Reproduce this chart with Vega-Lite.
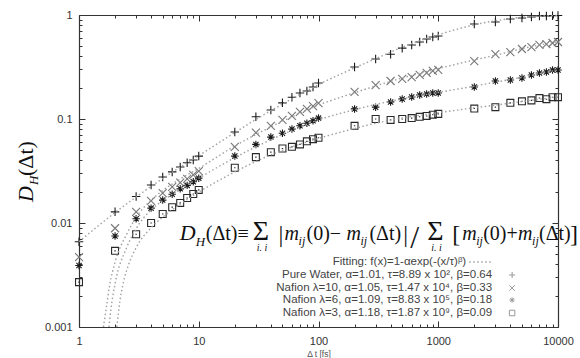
{
  "$schema": "https://vega.github.io/schema/vega-lite/v6.json",
  "width": 479,
  "height": 312,
  "autosize": "none",
  "padding": {"left": 79, "top": 15, "right": 22, "bottom": 31},
  "background": "white",
  "datasets": {
    "points": [
      {"series": "Pure Water", "dt": 1, "dh": 0.0066}, {"series": "Pure Water", "dt": 2, "dh": 0.0128}, {"series": "Pure Water", "dt": 3, "dh": 0.018}, {"series": "Pure Water", "dt": 4, "dh": 0.0232}, {"series": "Pure Water", "dt": 5, "dh": 0.0277}, {"series": "Pure Water", "dt": 6, "dh": 0.031}, {"series": "Pure Water", "dt": 7, "dh": 0.0346}, {"series": "Pure Water", "dt": 8, "dh": 0.038}, {"series": "Pure Water", "dt": 9, "dh": 0.0404}, {"series": "Pure Water", "dt": 10, "dh": 0.044},
      {"series": "Pure Water", "dt": 20, "dh": 0.075}, {"series": "Pure Water", "dt": 30, "dh": 0.105}, {"series": "Pure Water", "dt": 40, "dh": 0.122}, {"series": "Pure Water", "dt": 50, "dh": 0.143}, {"series": "Pure Water", "dt": 60, "dh": 0.162}, {"series": "Pure Water", "dt": 70, "dh": 0.178}, {"series": "Pure Water", "dt": 80, "dh": 0.186}, {"series": "Pure Water", "dt": 90, "dh": 0.203}, {"series": "Pure Water", "dt": 100, "dh": 0.222},
      {"series": "Pure Water", "dt": 200, "dh": 0.316}, {"series": "Pure Water", "dt": 300, "dh": 0.377}, {"series": "Pure Water", "dt": 400, "dh": 0.42}, {"series": "Pure Water", "dt": 500, "dh": 0.48}, {"series": "Pure Water", "dt": 600, "dh": 0.515}, {"series": "Pure Water", "dt": 700, "dh": 0.55}, {"series": "Pure Water", "dt": 800, "dh": 0.588}, {"series": "Pure Water", "dt": 900, "dh": 0.614}, {"series": "Pure Water", "dt": 1000, "dh": 0.628},
      {"series": "Pure Water", "dt": 2000, "dh": 0.82}, {"series": "Pure Water", "dt": 3000, "dh": 0.857}, {"series": "Pure Water", "dt": 4000, "dh": 0.915}, {"series": "Pure Water", "dt": 5000, "dh": 0.935}, {"series": "Pure Water", "dt": 6000, "dh": 0.956}, {"series": "Pure Water", "dt": 7000, "dh": 0.978}, {"series": "Pure Water", "dt": 8000, "dh": 0.98}, {"series": "Pure Water", "dt": 9000, "dh": 0.985}, {"series": "Pure Water", "dt": 10000, "dh": 0.99},

      {"series": "Nafion λ=10", "dt": 1, "dh": 0.0047}, {"series": "Nafion λ=10", "dt": 2, "dh": 0.0089}, {"series": "Nafion λ=10", "dt": 3, "dh": 0.0128}, {"series": "Nafion λ=10", "dt": 4, "dh": 0.0163}, {"series": "Nafion λ=10", "dt": 5, "dh": 0.0194}, {"series": "Nafion λ=10", "dt": 6, "dh": 0.0222}, {"series": "Nafion λ=10", "dt": 7, "dh": 0.0244}, {"series": "Nafion λ=10", "dt": 8, "dh": 0.0265}, {"series": "Nafion λ=10", "dt": 9, "dh": 0.029}, {"series": "Nafion λ=10", "dt": 10, "dh": 0.0316},
      {"series": "Nafion λ=10", "dt": 20, "dh": 0.054}, {"series": "Nafion λ=10", "dt": 30, "dh": 0.074}, {"series": "Nafion λ=10", "dt": 40, "dh": 0.086}, {"series": "Nafion λ=10", "dt": 50, "dh": 0.098}, {"series": "Nafion λ=10", "dt": 60, "dh": 0.107}, {"series": "Nafion λ=10", "dt": 70, "dh": 0.117}, {"series": "Nafion λ=10", "dt": 80, "dh": 0.125}, {"series": "Nafion λ=10", "dt": 90, "dh": 0.133}, {"series": "Nafion λ=10", "dt": 100, "dh": 0.142},
      {"series": "Nafion λ=10", "dt": 200, "dh": 0.182}, {"series": "Nafion λ=10", "dt": 300, "dh": 0.212}, {"series": "Nafion λ=10", "dt": 400, "dh": 0.232}, {"series": "Nafion λ=10", "dt": 500, "dh": 0.243}, {"series": "Nafion λ=10", "dt": 600, "dh": 0.253}, {"series": "Nafion λ=10", "dt": 700, "dh": 0.265}, {"series": "Nafion λ=10", "dt": 800, "dh": 0.277}, {"series": "Nafion λ=10", "dt": 900, "dh": 0.29}, {"series": "Nafion λ=10", "dt": 1000, "dh": 0.296},
      {"series": "Nafion λ=10", "dt": 2000, "dh": 0.361}, {"series": "Nafion λ=10", "dt": 3000, "dh": 0.42}, {"series": "Nafion λ=10", "dt": 4000, "dh": 0.44}, {"series": "Nafion λ=10", "dt": 5000, "dh": 0.471}, {"series": "Nafion λ=10", "dt": 6000, "dh": 0.492}, {"series": "Nafion λ=10", "dt": 7000, "dh": 0.515}, {"series": "Nafion λ=10", "dt": 8000, "dh": 0.526}, {"series": "Nafion λ=10", "dt": 9000, "dh": 0.538}, {"series": "Nafion λ=10", "dt": 10000, "dh": 0.55},

      {"series": "Nafion λ=6", "dt": 1, "dh": 0.0039}, {"series": "Nafion λ=6", "dt": 2, "dh": 0.0075}, {"series": "Nafion λ=6", "dt": 3, "dh": 0.011}, {"series": "Nafion λ=6", "dt": 4, "dh": 0.0139}, {"series": "Nafion λ=6", "dt": 5, "dh": 0.0166}, {"series": "Nafion λ=6", "dt": 6, "dh": 0.0189}, {"series": "Nafion λ=6", "dt": 7, "dh": 0.0213}, {"series": "Nafion λ=6", "dt": 8, "dh": 0.023}, {"series": "Nafion λ=6", "dt": 9, "dh": 0.0249}, {"series": "Nafion λ=6", "dt": 10, "dh": 0.027},
      {"series": "Nafion λ=6", "dt": 20, "dh": 0.044}, {"series": "Nafion λ=6", "dt": 30, "dh": 0.057}, {"series": "Nafion λ=6", "dt": 40, "dh": 0.067}, {"series": "Nafion λ=6", "dt": 50, "dh": 0.073}, {"series": "Nafion λ=6", "dt": 60, "dh": 0.08}, {"series": "Nafion λ=6", "dt": 70, "dh": 0.086}, {"series": "Nafion λ=6", "dt": 80, "dh": 0.091}, {"series": "Nafion λ=6", "dt": 90, "dh": 0.096}, {"series": "Nafion λ=6", "dt": 100, "dh": 0.102},
      {"series": "Nafion λ=6", "dt": 200, "dh": 0.125}, {"series": "Nafion λ=6", "dt": 300, "dh": 0.13}, {"series": "Nafion λ=6", "dt": 400, "dh": 0.146}, {"series": "Nafion λ=6", "dt": 500, "dh": 0.156}, {"series": "Nafion λ=6", "dt": 600, "dh": 0.163}, {"series": "Nafion λ=6", "dt": 700, "dh": 0.17}, {"series": "Nafion λ=6", "dt": 800, "dh": 0.174}, {"series": "Nafion λ=6", "dt": 900, "dh": 0.178}, {"series": "Nafion λ=6", "dt": 1000, "dh": 0.178},
      {"series": "Nafion λ=6", "dt": 2000, "dh": 0.203}, {"series": "Nafion λ=6", "dt": 3000, "dh": 0.232}, {"series": "Nafion λ=6", "dt": 4000, "dh": 0.237}, {"series": "Nafion λ=6", "dt": 5000, "dh": 0.248}, {"series": "Nafion λ=6", "dt": 6000, "dh": 0.265}, {"series": "Nafion λ=6", "dt": 7000, "dh": 0.277}, {"series": "Nafion λ=6", "dt": 8000, "dh": 0.283}, {"series": "Nafion λ=6", "dt": 9000, "dh": 0.296}, {"series": "Nafion λ=6", "dt": 10000, "dh": 0.296},

      {"series": "Nafion λ=3", "dt": 1, "dh": 0.0027}, {"series": "Nafion λ=3", "dt": 2, "dh": 0.0054}, {"series": "Nafion λ=3", "dt": 3, "dh": 0.0078}, {"series": "Nafion λ=3", "dt": 4, "dh": 0.01}, {"series": "Nafion λ=3", "dt": 5, "dh": 0.0122}, {"series": "Nafion λ=3", "dt": 6, "dh": 0.0142}, {"series": "Nafion λ=3", "dt": 7, "dh": 0.0156}, {"series": "Nafion λ=3", "dt": 8, "dh": 0.0174}, {"series": "Nafion λ=3", "dt": 9, "dh": 0.019}, {"series": "Nafion λ=3", "dt": 10, "dh": 0.0208},
      {"series": "Nafion λ=3", "dt": 20, "dh": 0.034}, {"series": "Nafion λ=3", "dt": 30, "dh": 0.043}, {"series": "Nafion λ=3", "dt": 40, "dh": 0.048}, {"series": "Nafion λ=3", "dt": 50, "dh": 0.052}, {"series": "Nafion λ=3", "dt": 60, "dh": 0.054}, {"series": "Nafion λ=3", "dt": 70, "dh": 0.057}, {"series": "Nafion λ=3", "dt": 80, "dh": 0.061}, {"series": "Nafion λ=3", "dt": 90, "dh": 0.064}, {"series": "Nafion λ=3", "dt": 100, "dh": 0.066},
      {"series": "Nafion λ=3", "dt": 200, "dh": 0.086}, {"series": "Nafion λ=3", "dt": 300, "dh": 0.1}, {"series": "Nafion λ=3", "dt": 400, "dh": 0.098}, {"series": "Nafion λ=3", "dt": 500, "dh": 0.1}, {"series": "Nafion λ=3", "dt": 600, "dh": 0.102}, {"series": "Nafion λ=3", "dt": 700, "dh": 0.105}, {"series": "Nafion λ=3", "dt": 800, "dh": 0.107}, {"series": "Nafion λ=3", "dt": 900, "dh": 0.11}, {"series": "Nafion λ=3", "dt": 1000, "dh": 0.112},
      {"series": "Nafion λ=3", "dt": 2000, "dh": 0.126}, {"series": "Nafion λ=3", "dt": 3000, "dh": 0.13}, {"series": "Nafion λ=3", "dt": 4000, "dh": 0.143}, {"series": "Nafion λ=3", "dt": 5000, "dh": 0.148}, {"series": "Nafion λ=3", "dt": 6000, "dh": 0.151}, {"series": "Nafion λ=3", "dt": 7000, "dh": 0.159}, {"series": "Nafion λ=3", "dt": 8000, "dh": 0.155}, {"series": "Nafion λ=3", "dt": 9000, "dh": 0.162}, {"series": "Nafion λ=3", "dt": 10000, "dh": 0.162}
    ],
    "fits": [
      {"series": "Pure Water", "dt": 1, "dh": 0.0066}, {"series": "Pure Water", "dt": 1.5, "dh": 0.0097}, {"series": "Pure Water", "dt": 2, "dh": 0.0126}, {"series": "Pure Water", "dt": 3, "dh": 0.0178}, {"series": "Pure Water", "dt": 5, "dh": 0.0268}, {"series": "Pure Water", "dt": 7, "dh": 0.0345}, {"series": "Pure Water", "dt": 10, "dh": 0.0445}, {"series": "Pure Water", "dt": 20, "dh": 0.074}, {"series": "Pure Water", "dt": 30, "dh": 0.099}, {"series": "Pure Water", "dt": 50, "dh": 0.139}, {"series": "Pure Water", "dt": 70, "dh": 0.172}, {"series": "Pure Water", "dt": 100, "dh": 0.214}, {"series": "Pure Water", "dt": 200, "dh": 0.31}, {"series": "Pure Water", "dt": 300, "dh": 0.38}, {"series": "Pure Water", "dt": 500, "dh": 0.49}, {"series": "Pure Water", "dt": 700, "dh": 0.565}, {"series": "Pure Water", "dt": 1000, "dh": 0.645}, {"series": "Pure Water", "dt": 1500, "dh": 0.74}, {"series": "Pure Water", "dt": 2000, "dh": 0.805}, {"series": "Pure Water", "dt": 3000, "dh": 0.88}, {"series": "Pure Water", "dt": 5000, "dh": 0.95}, {"series": "Pure Water", "dt": 7000, "dh": 0.975}, {"series": "Pure Water", "dt": 10000, "dh": 0.99},
      {"series": "Nafion λ=10", "dt": 1.6, "dh": 0.001}, {"series": "Nafion λ=10", "dt": 1.7, "dh": 0.0016}, {"series": "Nafion λ=10", "dt": 1.8, "dh": 0.0025}, {"series": "Nafion λ=10", "dt": 2, "dh": 0.0042}, {"series": "Nafion λ=10", "dt": 2.5, "dh": 0.0078}, {"series": "Nafion λ=10", "dt": 3, "dh": 0.0113}, {"series": "Nafion λ=10", "dt": 4, "dh": 0.0166}, {"series": "Nafion λ=10", "dt": 5, "dh": 0.0205}, {"series": "Nafion λ=10", "dt": 7, "dh": 0.0265}, {"series": "Nafion λ=10", "dt": 10, "dh": 0.0335}, {"series": "Nafion λ=10", "dt": 20, "dh": 0.055}, {"series": "Nafion λ=10", "dt": 30, "dh": 0.071}, {"series": "Nafion λ=10", "dt": 50, "dh": 0.095}, {"series": "Nafion λ=10", "dt": 100, "dh": 0.136}, {"series": "Nafion λ=10", "dt": 200, "dh": 0.179}, {"series": "Nafion λ=10", "dt": 300, "dh": 0.208}, {"series": "Nafion λ=10", "dt": 500, "dh": 0.248}, {"series": "Nafion λ=10", "dt": 1000, "dh": 0.305}, {"series": "Nafion λ=10", "dt": 2000, "dh": 0.37}, {"series": "Nafion λ=10", "dt": 3000, "dh": 0.41}, {"series": "Nafion λ=10", "dt": 5000, "dh": 0.475}, {"series": "Nafion λ=10", "dt": 7000, "dh": 0.515}, {"series": "Nafion λ=10", "dt": 10000, "dh": 0.555},
      {"series": "Nafion λ=6", "dt": 1.78, "dh": 0.001}, {"series": "Nafion λ=6", "dt": 1.85, "dh": 0.0015}, {"series": "Nafion λ=6", "dt": 2, "dh": 0.0026}, {"series": "Nafion λ=6", "dt": 2.5, "dh": 0.0058}, {"series": "Nafion λ=6", "dt": 3, "dh": 0.0088}, {"series": "Nafion λ=6", "dt": 4, "dh": 0.0134}, {"series": "Nafion λ=6", "dt": 5, "dh": 0.0164}, {"series": "Nafion λ=6", "dt": 7, "dh": 0.0212}, {"series": "Nafion λ=6", "dt": 10, "dh": 0.027}, {"series": "Nafion λ=6", "dt": 20, "dh": 0.0425}, {"series": "Nafion λ=6", "dt": 30, "dh": 0.054}, {"series": "Nafion λ=6", "dt": 50, "dh": 0.071}, {"series": "Nafion λ=6", "dt": 100, "dh": 0.098}, {"series": "Nafion λ=6", "dt": 200, "dh": 0.123}, {"series": "Nafion λ=6", "dt": 300, "dh": 0.138}, {"series": "Nafion λ=6", "dt": 500, "dh": 0.156}, {"series": "Nafion λ=6", "dt": 1000, "dh": 0.18}, {"series": "Nafion λ=6", "dt": 2000, "dh": 0.207}, {"series": "Nafion λ=6", "dt": 3000, "dh": 0.226}, {"series": "Nafion λ=6", "dt": 5000, "dh": 0.252}, {"series": "Nafion λ=6", "dt": 7000, "dh": 0.272}, {"series": "Nafion λ=6", "dt": 10000, "dh": 0.297},
      {"series": "Nafion λ=3", "dt": 2.07, "dh": 0.001}, {"series": "Nafion λ=3", "dt": 2.2, "dh": 0.0018}, {"series": "Nafion λ=3", "dt": 2.35, "dh": 0.0027}, {"series": "Nafion λ=3", "dt": 2.6, "dh": 0.004}, {"series": "Nafion λ=3", "dt": 3, "dh": 0.0058}, {"series": "Nafion λ=3", "dt": 4, "dh": 0.009}, {"series": "Nafion λ=3", "dt": 5, "dh": 0.0114}, {"series": "Nafion λ=3", "dt": 7, "dh": 0.0152}, {"series": "Nafion λ=3", "dt": 10, "dh": 0.0198}, {"series": "Nafion λ=3", "dt": 20, "dh": 0.031}, {"series": "Nafion λ=3", "dt": 30, "dh": 0.039}, {"series": "Nafion λ=3", "dt": 50, "dh": 0.05}, {"series": "Nafion λ=3", "dt": 100, "dh": 0.065}, {"series": "Nafion λ=3", "dt": 200, "dh": 0.081}, {"series": "Nafion λ=3", "dt": 300, "dh": 0.091}, {"series": "Nafion λ=3", "dt": 500, "dh": 0.102}, {"series": "Nafion λ=3", "dt": 1000, "dh": 0.115}, {"series": "Nafion λ=3", "dt": 2000, "dh": 0.128}, {"series": "Nafion λ=3", "dt": 3000, "dh": 0.136}, {"series": "Nafion λ=3", "dt": 5000, "dh": 0.147}, {"series": "Nafion λ=3", "dt": 7000, "dh": 0.155}, {"series": "Nafion λ=3", "dt": 10000, "dh": 0.163}
    ]
  },
  "resolve": {"axis": {"x": "independent", "y": "independent"}},
  "layer": [
    {
      "data": {"name": "points"},
      "mark": {"type": "point", "filled": false, "strokeWidth": 1.1, "opacity": 1},
      "encoding": {
        "x": {"field": "dt", "type": "quantitative", "scale": {"type": "log", "domain": [1, 10000]},
          "axis": {"orient": "bottom", "values": [1,2,3,4,5,6,7,8,9,10,20,30,40,50,60,70,80,90,100,200,300,400,500,600,700,800,900,1000,2000,3000,4000,5000,6000,7000,8000,9000,10000],
            "format": "d", "labelExpr": "indexof([1,10,100,1000,10000], datum.value) >= 0 ? datum.label : ''",
            "tickSize": {"condition": {"test": "indexof([1,10,100,1000,10000], datum.value) >= 0", "value": -6}, "value": -3},
            "labelPadding": 14, "labelFlush": false, "labelOverlap": false,
            "title": "Δ t [fs]", "titleFont": "Liberation Sans", "titleFontSize": 8.5, "titleFontWeight": "normal", "titleColor": "#555", "titlePadding": 0}},
        "y": {"field": "dh", "type": "quantitative", "scale": {"type": "log", "domain": [0.001, 1]},
          "axis": {"orient": "left", "values": [0.001,0.002,0.003,0.004,0.005,0.006,0.007,0.008,0.009,0.01,0.02,0.03,0.04,0.05,0.06,0.07,0.08,0.09,0.1,0.2,0.3,0.4,0.5,0.6,0.7,0.8,0.9,1],
            "format": "~g", "labelExpr": "indexof([0.001,0.01,0.1,1], datum.value) >= 0 ? datum.label : ''",
            "tickSize": {"condition": {"test": "indexof([0.001,0.01,0.1,1], datum.value) >= 0", "value": -6}, "value": -3},
            "labelPadding": 13, "labelFlush": false, "labelOverlap": false, "title": null}},
        "shape": {"field": "series", "type": "nominal", "legend": null,
          "scale": {"domain": ["Pure Water", "Nafion λ=10", "Nafion λ=6", "Nafion λ=3"],
            "range": ["M-1,0L1,0M0,-1L0,1", "M-1,-1L1,1M-1,1L1,-1", "M-1,0L1,0M0,-1L0,1M-0.7,-0.7L0.7,0.7M-0.7,0.7L0.7,-0.7", "M-1,-1L1,-1L1,1L-1,1ZM-0.2,0L0.2,0"]}},
        "color": {"field": "series", "type": "nominal", "legend": null,
          "scale": {"domain": ["Pure Water", "Nafion λ=10", "Nafion λ=6", "Nafion λ=3"], "range": ["#1a1a1a", "#777777", "#1a1a1a", "#2a2a2a"]}},
        "size": {"field": "series", "type": "nominal", "legend": null,
          "scale": {"domain": ["Pure Water", "Nafion λ=10", "Nafion λ=6", "Nafion λ=3"], "range": [72, 48, 52, 44]}}
      }
    },
    {
      "data": {"name": "fits"},
      "mark": {"type": "line", "strokeDash": [1.5, 2.5], "strokeWidth": 1.4, "color": "#a0a0a0", "interpolate": "monotone"},
      "encoding": {
        "x": {"field": "dt", "type": "quantitative", "scale": {"type": "log", "domain": [1, 10000]},
          "axis": {"orient": "top", "values": [1,2,3,4,5,6,7,8,9,10,20,30,40,50,60,70,80,90,100,200,300,400,500,600,700,800,900,1000,2000,3000,4000,5000,6000,7000,8000,9000,10000],
            "labels": false, "title": null,
            "tickSize": {"condition": {"test": "indexof([1,10,100,1000,10000], datum.value) >= 0", "value": -6}, "value": -3}}},
        "y": {"field": "dh", "type": "quantitative", "scale": {"type": "log", "domain": [0.001, 1]},
          "axis": {"orient": "right", "values": [0.001,0.002,0.003,0.004,0.005,0.006,0.007,0.008,0.009,0.01,0.02,0.03,0.04,0.05,0.06,0.07,0.08,0.09,0.1,0.2,0.3,0.4,0.5,0.6,0.7,0.8,0.9,1],
            "labels": false, "title": null,
            "tickSize": {"condition": {"test": "indexof([0.001,0.01,0.1,1], datum.value) >= 0", "value": -6}, "value": -3}}},
        "detail": {"field": "series", "type": "nominal"}
      }
    },

    {"data": {"values": [{}]}, "mark": {"type": "text", "style": "fi", "text": "D", "fontSize": 22, "angle": 270}, "encoding": {"x": {"datum": 0.41365, "axis": null}, "y": {"datum": 0.015915, "axis": null}}},
    {"data": {"values": [{}]}, "mark": {"type": "text", "style": "fs", "text": "H", "fontSize": 13, "angle": 270}, "encoding": {"x": {"datum": 0.4553, "axis": null}, "y": {"datum": 0.023198, "axis": null}}},
    {"data": {"values": [{}]}, "mark": {"type": "text", "style": "fm", "text": "(Δt)", "fontSize": 22, "angle": 270}, "encoding": {"x": {"datum": 0.41365, "axis": null}, "y": {"datum": 0.028306, "axis": null}}},

    {"data": {"values": [{}]}, "mark": {"type": "text", "style": "fi", "text": "D", "fontSize": 22}, "encoding": {"x": {"datum": 6.946, "axis": null}, "y": {"datum": 0.006863, "axis": null}}},
    {"data": {"values": [{}]}, "mark": {"type": "text", "style": "fs", "text": "H", "fontSize": 13}, "encoding": {"x": {"datum": 9.441, "axis": null}, "y": {"datum": 0.00601, "axis": null}}},
    {"data": {"values": [{}]}, "mark": {"type": "text", "style": "fm", "text": "(Δt)≡"}, "encoding": {"x": {"datum": 11.44, "axis": null}, "y": {"datum": 0.006863, "axis": null}}},
    {"data": {"values": [{}]}, "mark": {"type": "text", "style": "fb", "text": "Σ"}, "encoding": {"x": {"datum": 28.18, "axis": null}, "y": {"datum": 0.006863, "axis": null}}},
    {"data": {"values": [{}]}, "mark": {"type": "text", "style": "fs", "text": "i. i", "fontSize": 10}, "encoding": {"x": {"datum": 30.43, "axis": null}, "y": {"datum": 0.00538, "axis": null}}},
    {"data": {"values": [{}]}, "mark": {"type": "text", "style": "fm", "text": "|", "fontSize": 24}, "encoding": {"x": {"datum": 46.42, "axis": null}, "y": {"datum": 0.006566, "axis": null}}},
    {"data": {"values": [{}]}, "mark": {"type": "text", "style": "fi", "text": "m"}, "encoding": {"x": {"datum": 52.08, "axis": null}, "y": {"datum": 0.006863, "axis": null}}},
    {"data": {"values": [{}]}, "mark": {"type": "text", "style": "fs", "text": "ij"}, "encoding": {"x": {"datum": 68.13, "axis": null}, "y": {"datum": 0.006144, "axis": null}}},
    {"data": {"values": [{}]}, "mark": {"type": "text", "style": "fm", "text": "(0)−"}, "encoding": {"x": {"datum": 79.43, "axis": null}, "y": {"datum": 0.006863, "axis": null}}},
    {"data": {"values": [{}]}, "mark": {"type": "text", "style": "fi", "text": "m"}, "encoding": {"x": {"datum": 171.1, "axis": null}, "y": {"datum": 0.006863, "axis": null}}},
    {"data": {"values": [{}]}, "mark": {"type": "text", "style": "fs", "text": "ij"}, "encoding": {"x": {"datum": 223.9, "axis": null}, "y": {"datum": 0.006144, "axis": null}}},
    {"data": {"values": [{}]}, "mark": {"type": "text", "style": "fm", "text": "(Δt)"}, "encoding": {"x": {"datum": 266.1, "axis": null}, "y": {"datum": 0.006863, "axis": null}}},
    {"data": {"values": [{}]}, "mark": {"type": "text", "style": "fm", "text": "|", "fontSize": 24}, "encoding": {"x": {"datum": 510.9, "axis": null}, "y": {"datum": 0.006566, "axis": null}}},
    {"data": {"values": [{}]}, "mark": {"type": "text", "style": "fm", "text": "/", "fontSize": 32}, "encoding": {"x": {"datum": 584.3, "axis": null}, "y": {"datum": 0.005751, "axis": null}}},
    {"data": {"values": [{}]}, "mark": {"type": "text", "style": "fb", "text": "Σ"}, "encoding": {"x": {"datum": 809.8, "axis": null}, "y": {"datum": 0.006863, "axis": null}}},
    {"data": {"values": [{}]}, "mark": {"type": "text", "style": "fs", "text": "i. i", "fontSize": 10}, "encoding": {"x": {"datum": 874.3, "axis": null}, "y": {"datum": 0.00538, "axis": null}}},
    {"data": {"values": [{}]}, "mark": {"type": "text", "style": "fm", "text": "[", "fontSize": 24}, "encoding": {"x": {"datum": 1308, "axis": null}, "y": {"datum": 0.006566, "axis": null}}},
    {"data": {"values": [{}]}, "mark": {"type": "text", "style": "fi", "text": "m"}, "encoding": {"x": {"datum": 1584.9, "axis": null}, "y": {"datum": 0.006863, "axis": null}}},
    {"data": {"values": [{}]}, "mark": {"type": "text", "style": "fs", "text": "ij"}, "encoding": {"x": {"datum": 2073.9, "axis": null}, "y": {"datum": 0.006144, "axis": null}}},
    {"data": {"values": [{}]}, "mark": {"type": "text", "style": "fm", "text": "(0)+"}, "encoding": {"x": {"datum": 2371.4, "axis": null}, "y": {"datum": 0.006863, "axis": null}}},
    {"data": {"values": [{}]}, "mark": {"type": "text", "style": "fi", "text": "m"}, "encoding": {"x": {"datum": 4641.6, "axis": null}, "y": {"datum": 0.006863, "axis": null}}},
    {"data": {"values": [{}]}, "mark": {"type": "text", "style": "fs", "text": "ij"}, "encoding": {"x": {"datum": 6072, "axis": null}, "y": {"datum": 0.006144, "axis": null}}},
    {"data": {"values": [{}]}, "mark": {"type": "text", "style": "fm", "text": "(Δt)"}, "encoding": {"x": {"datum": 6945, "axis": null}, "y": {"datum": 0.006863, "axis": null}}},
    {"data": {"values": [{}]}, "mark": {"type": "text", "style": "fm", "text": "]", "fontSize": 24}, "encoding": {"x": {"datum": 12589, "axis": null}, "y": {"datum": 0.006566, "axis": null}}},

    {"data": {"values": [{}]}, "mark": {"type": "text", "style": "lg", "text": "Fitting: f(x)=1-αexp(-(x/τ)ᵝ)"}, "encoding": {"x": {"datum": 1711, "axis": null}, "y": {"datum": 0.004217, "axis": null}}},
    {"data": {"values": [{}]}, "mark": {"type": "rule", "strokeDash": [1.5, 2.5], "strokeWidth": 1.4, "color": "#a0a0a0"}, "encoding": {"x": {"datum": 1813, "axis": null}, "x2": {"datum": 2818}, "y": {"datum": 0.004217, "axis": null}}},
    {"data": {"values": [{}]}, "mark": {"type": "text", "style": "lg", "text": "Pure Water, α=1.01, τ=8.89 x 10², β=0.64"}, "encoding": {"x": {"datum": 2818, "axis": null}, "y": {"datum": 0.003162, "axis": null}}},
    {"data": {"values": [{}]}, "mark": {"type": "text", "style": "lg", "text": "Nafion λ=10, α=1.05, τ=1.47 x 10⁴, β=0.33"}, "encoding": {"x": {"datum": 2818, "axis": null}, "y": {"datum": 0.002371, "axis": null}}},
    {"data": {"values": [{}]}, "mark": {"type": "text", "style": "lg", "text": "Nafion λ=6, α=1.09, τ=8.83 x 10⁵, β=0.18"}, "encoding": {"x": {"datum": 2818, "axis": null}, "y": {"datum": 0.001818, "axis": null}}},
    {"data": {"values": [{}]}, "mark": {"type": "text", "style": "lg", "text": "Nafion λ=3, α=1.18, τ=1.87 x 10⁹, β=0.09"}, "encoding": {"x": {"datum": 2818, "axis": null}, "y": {"datum": 0.0013635, "axis": null}}},
    {"data": {"values": [{}]}, "mark": {"type": "point", "filled": false, "shape": "M-1,0L1,0M0,-1L0,1", "size": 36, "color": "#999", "strokeWidth": 1, "opacity": 1}, "encoding": {"x": {"datum": 4138, "axis": null}, "y": {"datum": 0.003162, "axis": null}}},
    {"data": {"values": [{}]}, "mark": {"type": "point", "filled": false, "shape": "M-1,-1L1,1M-1,1L1,-1", "size": 30, "color": "#999", "strokeWidth": 1, "opacity": 1}, "encoding": {"x": {"datum": 4138, "axis": null}, "y": {"datum": 0.002371, "axis": null}}},
    {"data": {"values": [{}]}, "mark": {"type": "point", "filled": false, "shape": "M-1,0L1,0M0,-1L0,1M-0.7,-0.7L0.7,0.7M-0.7,0.7L0.7,-0.7", "size": 26, "color": "#999", "strokeWidth": 1, "opacity": 1}, "encoding": {"x": {"datum": 4138, "axis": null}, "y": {"datum": 0.001818, "axis": null}}},
    {"data": {"values": [{}]}, "mark": {"type": "point", "filled": false, "shape": "M-1,-1L1,-1L1,1L-1,1Z", "size": 30, "color": "#999", "strokeWidth": 1, "opacity": 1}, "encoding": {"x": {"datum": 4138, "axis": null}, "y": {"datum": 0.0013635, "axis": null}}}
  ],
  "config": {
    "view": {"stroke": null},
    "axis": {"labelFont": "Liberation Sans", "labelFontSize": 11, "labelColor": "#333", "domainColor": "#333", "domainWidth": 1.2, "tickColor": "#333", "tickWidth": 1, "grid": false},
    "style": {
      "fm": {"font": "Liberation Serif", "fontSize": 20, "align": "left", "baseline": "alphabetic", "color": "#111"},
      "fi": {"font": "Liberation Serif", "fontSize": 20, "fontStyle": "italic", "align": "left", "baseline": "alphabetic", "color": "#111"},
      "fs": {"font": "Liberation Serif", "fontSize": 12, "fontStyle": "italic", "align": "left", "baseline": "alphabetic", "color": "#111"},
      "fb": {"font": "Liberation Serif", "fontSize": 28, "align": "left", "baseline": "alphabetic", "color": "#111"},
      "lg": {"font": "Liberation Sans", "fontSize": 11.5, "align": "right", "baseline": "middle", "color": "#444"}
    }
  }
}
